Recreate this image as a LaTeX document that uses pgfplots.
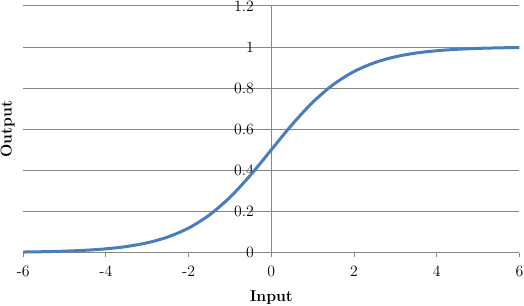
\documentclass[border=0pt]{standalone}
\usepackage{pgfplots}
\pgfplotsset{compat=1.18}
\definecolor{gridgray}{RGB}{134,134,134}
\definecolor{curveblue}{RGB}{74,126,187}
\begin{document}
\begin{tikzpicture}
\begin{axis}[
  scale only axis,
  width=371.25pt, height=184.5pt,
  xmin=-6, xmax=6, ymin=0, ymax=1.2,
  axis x line=bottom,
  axis y line=middle,
  axis line style={gridgray, line width=0.75pt, -},
  hide obscured x ticks=false,
  hide obscured y ticks=false,
  xtick={-6,-4,-2,0,2,4,6},
  ytick={0,0.2,0.4,0.6,0.8,1,1.2},
  yticklabels={0,0.2,0.4,0.6,0.8,1,1.2},
  ymajorgrids,
  major grid style={gridgray, line width=0.75pt},
  x tick style={gridgray, line width=0.75pt},
  y tick style={draw=none},
  tick align=outside,
  major tick length=3pt,
  /pgf/number format/assume math mode=true,
  ticklabel style={font=\fontsize{11.8}{14}\selectfont, inner sep=0.5pt},
  xticklabel style={anchor=center, yshift=-11.25pt},
  yticklabel style={anchor=east, xshift=-9.3pt},
  every axis x label/.style={at={(axis description cs:0.5,0)}, anchor=center, yshift=-34pt, inner sep=0.5pt, font=\fontsize{11.8}{14}\selectfont},
  every axis y label/.style={at={(axis description cs:0,0.5)}, xshift=-11.6pt, anchor=center, rotate=90, inner sep=0.5pt, font=\fontsize{11.8}{14}\selectfont},
  xlabel={\textbf{Input}},
  ylabel={\textbf{Output}},
  clip=false,
]
\addplot[curveblue, line width=2.25pt, smooth] coordinates {
(-6,0.002473) (-5.5,0.004070) (-5,0.006693) (-4.5,0.010987) (-4,0.017986)
(-3.5,0.029312) (-3,0.047426) (-2.5,0.075858) (-2,0.119203) (-1.5,0.182426)
(-1,0.268941) (-0.5,0.377541) (0,0.5) (0.5,0.622459) (1,0.731059)
(1.5,0.817574) (2,0.880797) (2.5,0.924142) (3,0.952574) (3.5,0.970688)
(4,0.982014) (4.5,0.989013) (5,0.993307) (5.5,0.995930) (6,0.997527)
};
\end{axis}
\end{tikzpicture}
\end{document}
